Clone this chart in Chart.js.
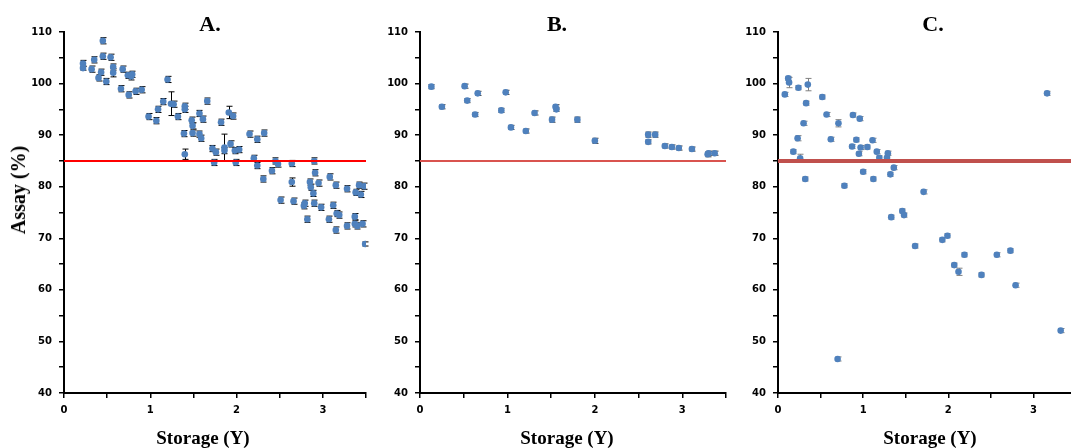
<!DOCTYPE html>
<html lang="en">
<head>
	<meta charset="UTF-8">
	<title>Assay vs storage</title>
	<script src="https://cdn.jsdelivr.net/npm/chart.js@4.4.1/dist/chart.umd.min.js"></script>
	<style>
		* { box-sizing: border-box; }
		html, body { margin: 0; padding: 0; background: #fff; }
		#wrap { position: relative; width: 1071px; height: 448px; overflow: hidden; }
		#wrap canvas { position: absolute; top: 0; }
		.label {
			position: absolute;
			font-family: "Liberation Serif", "Times New Roman", serif;
			font-weight: bold;
			color: #000;
			white-space: nowrap;
			line-height: 1;
		}
		.panelTitle { top: 13px; font-size: 22px; transform: translateX(-50%); }
		.xTitle { top: 437px; font-size: 19px; transform: translate(-50%, -50%); }
		.yTitle { left: 18px; top: 190px; font-size: 20px; transform: translate(-50%, -50%) rotate(-90deg); }
	</style>
</head>
<body>
	<div id="wrap">
		<canvas id="chartA" width="372" height="448" style="left:0px"></canvas>
		<canvas id="chartB" width="360" height="448" style="left:372px"></canvas>
		<canvas id="chartC" width="350" height="448" style="left:732px"></canvas>
		<div class="label panelTitle" style="left:210px">A.</div>
		<div class="label panelTitle" style="left:557px">B.</div>
		<div class="label panelTitle" style="left:933px">C.</div>
		<div class="label xTitle" style="left:203px">Storage (Y)</div>
		<div class="label xTitle" style="left:567px">Storage (Y)</div>
		<div class="label xTitle" style="left:930px">Storage (Y)</div>
		<div class="label yTitle">Assay (%)</div>
	</div>

	<script>
		// [storage (years), assay (%), error]
		const pointsA = [
			[0.22, 103.9, 0.6], [0.22, 103.0, 0.4], [0.32, 102.8, 0.6], [0.35, 104.6, 0.6],
			[0.40, 101.1, 0.6], [0.43, 102.2, 0.6], [0.45, 108.3, 0.6], [0.45, 105.3, 0.6],
			[0.49, 100.4, 0.6], [0.54, 105.1, 0.6], [0.57, 103.2, 0.6], [0.57, 102.1, 0.8],
			[0.66, 99.0, 0.6], [0.68, 102.8, 0.6], [0.74, 101.6, 0.6], [0.75, 97.8, 0.6],
			[0.78, 101.4, 0.7], [0.79, 101.8, 0.6], [0.83, 98.5, 0.6], [0.90, 98.8, 0.6],
			[0.98, 93.6, 0.6], [1.07, 92.8, 0.6], [1.09, 95.0, 0.6], [1.15, 96.5, 0.6],
			[1.20, 100.8, 0.6], [1.24, 96.1, 2.3], [1.27, 96.0, 0.6], [1.32, 93.6, 0.6],
			[1.40, 95.6, 0.6], [1.40, 95.0, 0.6], [1.39, 90.3, 0.6], [1.40, 86.3, 1.0],
			[1.48, 92.9, 0.6], [1.49, 91.8, 0.6], [1.49, 90.4, 0.6], [1.57, 94.2, 0.6],
			[1.57, 90.2, 0.6], [1.59, 89.4, 0.6], [1.61, 93.1, 0.6], [1.66, 96.6, 0.6],
			[1.72, 87.4, 0.6], [1.74, 84.7, 0.6], [1.76, 86.7, 0.6], [1.82, 92.5, 0.6],
			[1.86, 87.6, 2.6], [1.86, 87.0, 0.6], [1.91, 94.4, 1.2], [1.93, 88.3, 0.6],
			[1.96, 93.7, 0.6], [1.98, 87.0, 0.6], [1.99, 84.7, 0.6], [2.03, 87.2, 0.6],
			[2.15, 90.2, 0.6], [2.20, 85.5, 0.6], [2.24, 89.2, 0.6], [2.24, 84.1, 0.6],
			[2.31, 81.5, 0.6], [2.32, 90.4, 0.6], [2.41, 83.1, 0.6], [2.45, 85.0, 0.6],
			[2.48, 84.4, 0.6], [2.51, 77.4, 0.6], [2.64, 84.5, 0.6], [2.64, 80.9, 0.8],
			[2.66, 77.2, 0.6], [2.78, 76.3, 0.6], [2.79, 76.8, 0.6], [2.82, 73.7, 0.6],
			[2.85, 80.9, 0.6], [2.86, 79.9, 0.6], [2.89, 78.7, 0.6], [2.90, 85.0, 0.6],
			[2.90, 76.8, 0.6], [2.91, 82.7, 0.6], [2.95, 80.7, 0.6], [2.98, 76.0, 0.6],
			[3.07, 73.7, 0.6], [3.08, 81.9, 0.6], [3.12, 76.4, 0.6], [3.15, 80.3, 0.6],
			[3.15, 71.6, 0.6], [3.16, 74.8, 0.6], [3.19, 74.5, 0.6], [3.28, 79.6, 0.6],
			[3.28, 72.4, 0.6], [3.37, 72.8, 0.6], [3.37, 74.2, 0.6], [3.38, 78.9, 0.6],
			[3.40, 72.4, 0.6], [3.42, 80.3, 0.6], [3.44, 78.5, 0.6], [3.46, 72.8, 0.6],
			[3.48, 80.1, 0.6], [3.49, 68.9, 0.4]
		];

		const pointsB = [
			[0.13, 99.4, 0.4], [0.25, 95.5, 0.4], [0.51, 99.5, 0.4], [0.54, 96.7, 0.4],
			[0.63, 94.0, 0.4], [0.66, 98.1, 0.4], [0.93, 94.8, 0.4], [0.98, 98.3, 0.4],
			[1.04, 91.5, 0.4], [1.21, 90.8, 0.4], [1.31, 94.3, 0.4], [1.51, 93.0, 0.5],
			[1.55, 95.5, 0.4], [1.56, 95.0, 0.4], [1.80, 93.0, 0.5], [2.00, 88.9, 0.5],
			[2.61, 90.1, 0.5], [2.61, 88.7, 0.4], [2.69, 90.1, 0.5], [2.80, 87.9, 0.4],
			[2.88, 87.7, 0.4], [2.96, 87.5, 0.4], [3.11, 87.3, 0.4], [3.29, 86.3, 0.5],
			[3.30, 86.5, 0.4], [3.37, 86.5, 0.4]
		];

		const pointsC = [
			[0.08, 97.9, 0.4], [0.12, 101.0, 0.4], [0.13, 100.2, 1.0], [0.18, 86.8, 0.4],
			[0.23, 89.4, 0.5], [0.24, 99.2, 0.4], [0.26, 85.5, 0.8], [0.30, 92.3, 0.4],
			[0.32, 81.5, 0.4], [0.33, 96.2, 0.4], [0.35, 99.8, 1.2], [0.52, 97.4, 0.4],
			[0.57, 94.0, 0.4], [0.62, 89.2, 0.4], [0.70, 46.6, 0.4], [0.71, 92.3, 0.7],
			[0.78, 80.2, 0.4], [0.87, 87.8, 0.4], [0.88, 93.9, 0.4], [0.92, 89.1, 0.4],
			[0.95, 86.4, 0.4], [0.96, 93.2, 0.4], [0.97, 87.6, 0.4], [1.00, 82.9, 0.4],
			[1.05, 87.7, 0.4], [1.11, 89.0, 0.4], [1.12, 81.5, 0.4], [1.16, 86.8, 0.4],
			[1.19, 85.6, 0.4], [1.28, 85.6, 0.4], [1.29, 86.5, 0.4], [1.32, 82.4, 0.4],
			[1.33, 74.1, 0.4], [1.36, 83.7, 0.4], [1.46, 75.3, 0.4], [1.48, 74.5, 0.4],
			[1.61, 68.5, 0.4], [1.71, 79.0, 0.4], [1.93, 69.7, 0.4], [1.99, 70.5, 0.4],
			[2.07, 64.8, 0.4], [2.12, 63.5, 0.7], [2.19, 66.8, 0.4], [2.39, 62.9, 0.4],
			[2.57, 66.8, 0.4], [2.73, 67.6, 0.4], [2.79, 60.9, 0.4], [3.16, 98.1, 0.4],
			[3.32, 52.1, 0.4]
		];

		const limitLine = 85;

		const errorBars = {
			id: 'errorBars',
			beforeDatasetsDraw(chart) {
				const ctx = chart.ctx;
				const yScale = chart.scales.y;
				chart.data.datasets.forEach((ds, i) => {
					if (!ds.errors) return;
					const meta = chart.getDatasetMeta(i);
					ctx.save();
					ctx.strokeStyle = ds.errorColor;
					ctx.lineWidth = 1;
					meta.data.forEach((pt, j) => {
						const v = ds.data[j].y;
						const e = ds.errors[j];
						const top = yScale.getPixelForValue(v + e);
						const bot = yScale.getPixelForValue(v - e);
						const x = Math.round(pt.x) + 0.5;
						ctx.beginPath();
						ctx.moveTo(x, top); ctx.lineTo(x, bot);
						ctx.moveTo(x - 3, top); ctx.lineTo(x + 3, top);
						ctx.moveTo(x - 3, bot); ctx.lineTo(x + 3, bot);
						ctx.stroke();
					});
					ctx.restore();
				});
			}
		};

		const tickFont = { family: "'DejaVu Sans', Verdana, sans-serif", size: 10, weight: 'bold' };

		function makePanel(id, points, opts) {
			const datasets = [
				{
					type: 'scatter',
					data: points.map(p => ({ x: p[0], y: p[1] })),
					errors: points.map(p => p[2]),
					errorColor: opts.errorColor,
					backgroundColor: '#4f81bd',
					borderWidth: 0,
					pointRadius: 3.3,
					order: 2
				},
				{
					type: 'line',
					data: [{ x: 0, y: limitLine }, { x: 3.5, y: limitLine }],
					borderColor: opts.lineColor,
					borderWidth: opts.lineWidth,
					pointRadius: 0,
					order: 1
				}
			];

			return new Chart(document.getElementById(id), {
				type: 'scatter',
				data: { datasets },
				plugins: [errorBars],
				options: {
					responsive: false,
					animation: false,
					devicePixelRatio: 1,
					layout: { padding: { top: 32, right: opts.padRight, bottom: 0, left: 0 } },
					plugins: { legend: { display: false }, tooltip: { enabled: false } },
					scales: {
						x: {
							type: 'linear',
							min: 0,
							max: 3.5,
							afterFit: s => { s.height = 55; },
							ticks: {
								stepSize: 0.5,
								autoSkip: false,
								maxRotation: 0,
								color: '#000',
								font: tickFont,
								padding: 6,
								callback: v => Number.isInteger(v) ? v : ''
							},
							grid: { drawOnChartArea: false, color: '#000', tickLength: 5, lineWidth: 1.5 },
							border: { color: '#000', width: 2 }
						},
						y: {
							min: 40,
							max: 110,
							afterFit: s => { s.width = opts.yWidth; },
							ticks: {
								stepSize: 5,
								color: '#000',
								font: tickFont,
								padding: 7,
								callback: v => v % 10 === 0 ? v : ''
							},
							grid: { drawOnChartArea: false, color: '#000', tickLength: 5, lineWidth: 1.5 },
							border: { color: '#000', width: 2 }
						}
					}
				}
			});
		}

		makePanel('chartA', pointsA, { yWidth: 64, padRight: 3, errorColor: '#000', lineColor: '#ff0000', lineWidth: 2 });
		makePanel('chartB', pointsB, { yWidth: 48, padRight: 3, errorColor: '#404040', lineColor: '#d9534f', lineWidth: 2 });
		makePanel('chartC', pointsC, { yWidth: 46, padRight: 1, errorColor: '#808080', lineColor: '#c0504d', lineWidth: 4 });
	</script>
</body>
</html>
